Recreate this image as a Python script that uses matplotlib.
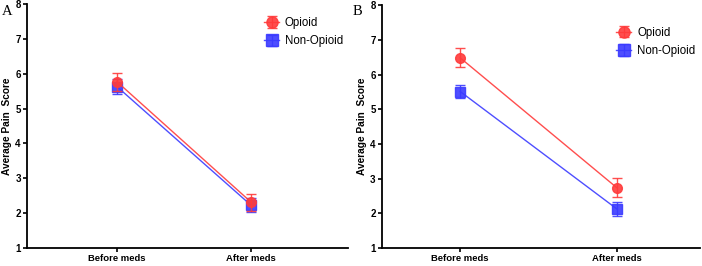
import numpy as np
from matplotlib import pyplot as plt

plt.rcParams['font.family'] = ['Liberation Sans', 'DejaVu Sans']

groups = ['Before meds', 'After meds']
series = ['Opioid', 'Non-Opioid']

# panel A
a_opioid = [5.77, 2.31]
a_opioid_err = [0.26, 0.24]
a_non = [5.63, 2.22]
a_non_err = [0.22, 0.2]

# panel B
b_opioid = [6.48, 2.74]
b_opioid_err = [0.27, 0.28]
b_non = [5.51, 2.13]
b_non_err = [0.2, 0.2]

red = '#ff3b3b'
blue = '#3b3bff'

fig = plt.figure(figsize=(7.02, 2.66), dpi=100)
axA = fig.add_axes([0.0385, 0.068, 0.457, 0.917])
axB = fig.add_axes([0.544, 0.067, 0.453, 0.914])


def panel(ax, op, op_err, non, non_err, xlim, legend_anchor):
    x = np.arange(len(groups))
    ax.errorbar(x, op, yerr=op_err, color=red, marker='o', markersize=7,
                lw=1, capsize=3.5, elinewidth=1, capthick=1, alpha=0.9,
                label=series[0], zorder=3)
    ax.errorbar(x, non, yerr=non_err, color=blue, marker='s', markersize=7,
                lw=1, capsize=3.5, elinewidth=1, capthick=1, alpha=0.9,
                label=series[1], zorder=2)
    ax.set_xlim(*xlim)
    ax.set_ylim(1, 8)
    ax.set_yticks(range(1, 9))
    ax.set_xticks(x)
    ax.set_xticklabels(groups, fontweight='bold', fontsize=6.8)
    for t in ax.get_yticklabels():
        t.set_fontweight('bold')
        t.set_fontsize(7)
    ax.set_ylabel('Average Pain  Score', fontweight='bold', fontsize=7.3, labelpad=2)
    ax.spines['top'].set_visible(False)
    ax.spines['right'].set_visible(False)
    ax.spines['left'].set_linewidth(1.3)
    ax.spines['bottom'].set_linewidth(1.3)
    ax.tick_params(axis='both', width=1.2, length=3, pad=1.5)
    ax.legend(loc='upper right', bbox_to_anchor=legend_anchor, frameon=False,
              fontsize=8.3, handlelength=1.3, handletextpad=0.5, markerscale=1.15,
              labelspacing=0.55, borderaxespad=0)


panel(axA, a_opioid, a_opioid_err, a_non, a_non_err, (-0.67, 1.72), (1.0, 0.965))
panel(axB, b_opioid, b_opioid_err, b_non, b_non_err, (-0.5, 1.53), (1.0, 0.93))

fig.text(0.003, 0.98, 'A', family='Liberation Serif', fontsize=10.5, va='top')
fig.text(0.503, 0.98, 'B', family='Liberation Serif', fontsize=10.5, va='top')

fig.savefig('out.png', dpi=100)
